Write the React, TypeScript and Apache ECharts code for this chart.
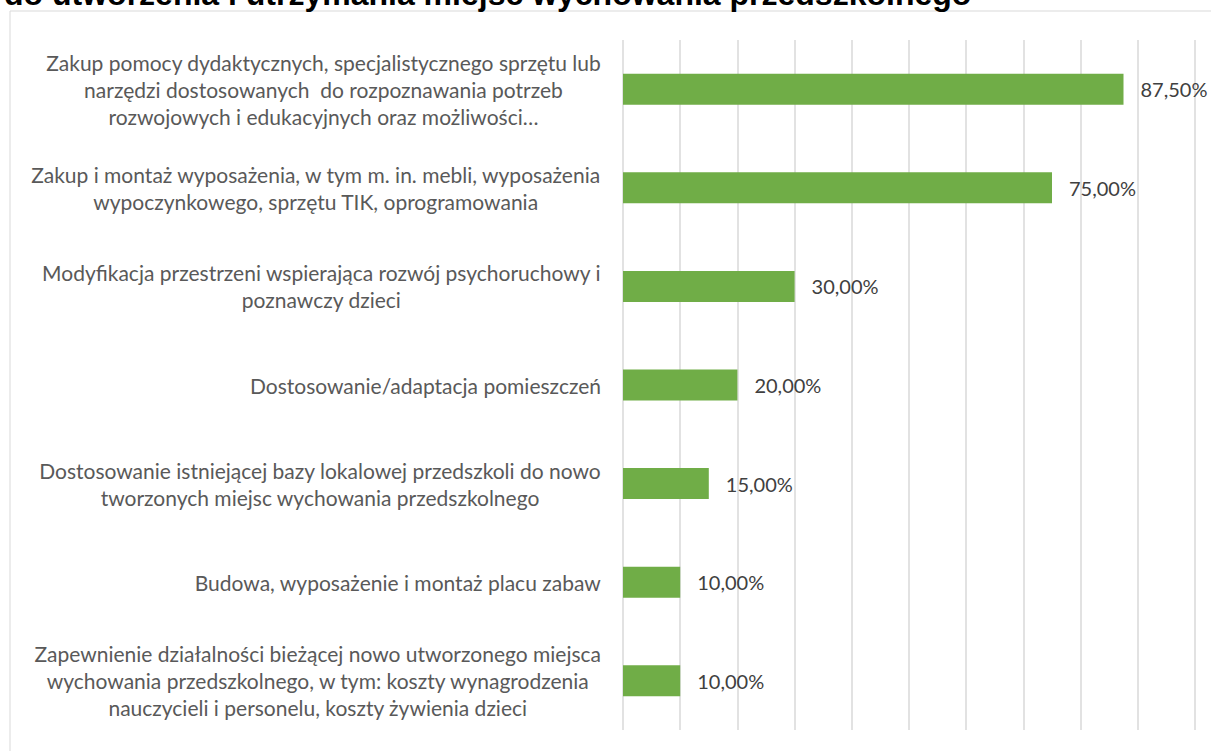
import React, { useEffect, useRef } from "react";
import * as echarts from "echarts";

const titleText = "do utworzenia i utrzymania miejsc wychowania przedszkolnego";

const categories = [
  "Zakup pomocy dydaktycznych, specjalistycznego sprzętu lub\nnarzędzi dostosowanych  do rozpoznawania potrzeb\nrozwojowych i edukacyjnych oraz możliwości…",
  "Zakup i montaż wyposażenia, w tym m. in. mebli, wyposażenia\nwypoczynkowego, sprzętu TIK, oprogramowania",
  "Modyfikacja przestrzeni wspierająca rozwój psychoruchowy i\npoznawczy dzieci",
  "Dostosowanie/adaptacja pomieszczeń",
  "Dostosowanie istniejącej bazy lokalowej przedszkoli do nowo\ntworzonych miejsc wychowania przedszkolnego",
  "Budowa, wyposażenie i montaż placu zabaw",
  "Zapewnienie działalności bieżącej nowo utworzonego miejsca\nwychowania przedszkolnego, w tym: koszty wynagrodzenia\nnauczycieli i personelu, koszty żywienia dzieci",
];

const values = [87.5, 75, 30, 20, 15, 10, 10];

const xMin = 0;
const xMax = 100;
const xInterval = 10;

const FONT = "Lato";
const LABEL_SIZE = 21;
const VALUE_SIZE = 20;

export default function App() {
  const ref = useRef<HTMLDivElement>(null);

  useEffect(() => {
    if (!ref.current) return;
    const chart = echarts.init(ref.current, null, { renderer: "svg" });
    chart.setOption({
      animation: false,
      backgroundColor: "#ffffff",
      graphic: [
        {
          type: "rect",
          silent: true,
          shape: { x: 10, y: 11, width: 1230, height: 780 },
          style: { fill: "none", stroke: "#d9d9d9", lineWidth: 1 },
          z: -10,
        },
        {
          type: "text",
          x: 4,
          y: 10,
          style: {
            text: titleText,
            font: "bold 32px 'Liberation Sans', Arial, sans-serif",
            fill: "#000000",
            verticalAlign: "bottom",
            align: "left",
          },
        },
      ],
      grid: { left: 623, right: 16, top: 40, bottom: 21, containLabel: false },
      xAxis: {
        type: "value",
        min: xMin,
        max: xMax,
        interval: xInterval,
        axisLabel: { show: false },
        axisLine: { show: false },
        axisTick: { show: false },
        splitLine: { show: true, lineStyle: { color: "#d9d9d9", width: 1.5 } },
      },
      yAxis: {
        type: "category",
        data: categories,
        inverse: true,
        axisLine: { show: false },
        axisTick: { show: false },
        axisLabel: {
          margin: 22,
          formatter: (v: string) =>
            v
              .split("\n")
              .map((l) => `{c|${l}}`)
              .join("\n"),
          rich: {
            c: {
              align: "center",
              fontFamily: FONT,
              fontSize: LABEL_SIZE,
              color: "#595959",
              lineHeight: 27,
            },
          },
        },
      },
      series: [
        {
          type: "bar",
          data: values,
          barWidth: 31,
          itemStyle: { color: "#70ad47" },
          label: {
            show: true,
            position: "right",
            distance: 17,
            fontFamily: FONT,
            fontSize: VALUE_SIZE,
            color: "#404040",
            formatter: (p: any) => p.value.toFixed(2).replace(".", ",") + "%",
          },
        },
      ],
    });
    return () => chart.dispose();
  }, []);

  return (
    <div
      ref={ref}
      style={{ position: "fixed", left: 0, top: 0, width: 1211, height: 751 }}
    />
  );
}
